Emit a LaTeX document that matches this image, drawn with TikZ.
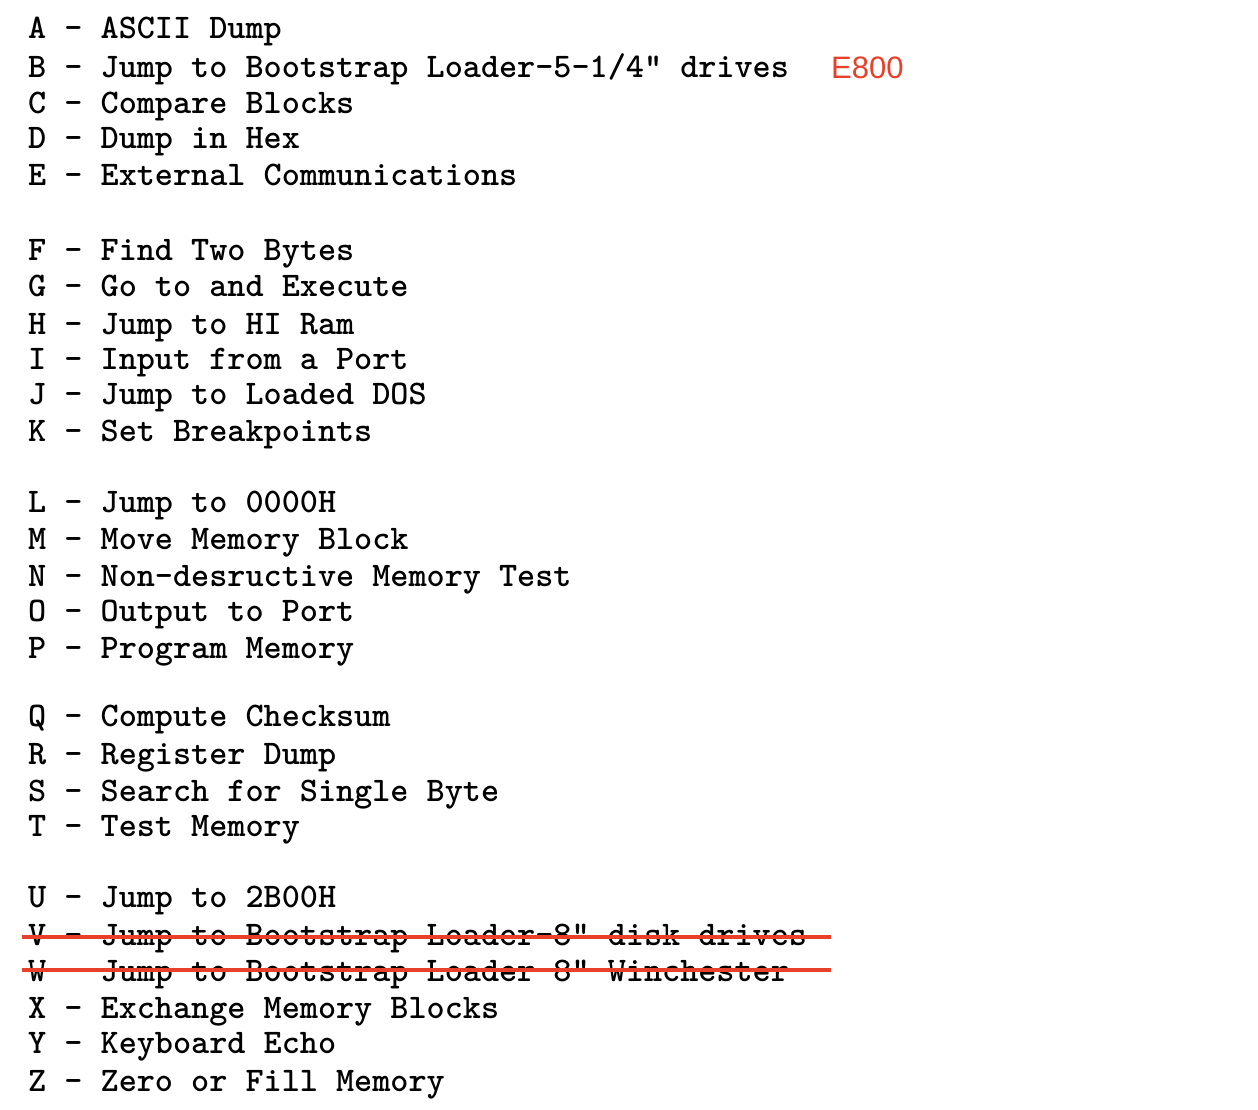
\documentclass[tikz,border=0pt]{standalone}
\usepackage{fontspec}
\usepackage{xcolor}
\usetikzlibrary{positioning}
\newfontfamily\labelfont{Liberation Sans}
\definecolor{markred}{HTML}{E8402A}

\begin{document}
\begin{tikzpicture}[x=1pt, y=-1pt,
    cmd/.style={anchor=base west, inner sep=0pt, font=\ttfamily\bfseries\fontsize{34.5}{36}\selectfont},
    note/.style={anchor=base west, inner sep=0pt, text=markred, font=\labelfont\fontsize{31}{33}\selectfont},
    strike/.style={draw=markred, line width=4.5pt}]
    \useasboundingbox[fill=white] (0,0) rectangle (1258,1110);

    % 命令列表
    \foreach \n/\y/\t in {A/39/{ASCII Dump}, B/78/{Jump to Bootstrap Loader-5-1/4" drives},
        C/114/{Compare Blocks}, D/149/{Dump in Hex}, E/186/{External Communications},
        F/260/{Find Two Bytes}, G/296/{Go to and Execute}, H/334/{Jump to HI Ram},
        I/369/{Input from a Port}, J/404/{Jump to Loaded DOS}, K/441/{Set Breakpoints},
        L/512/{Jump to 0000H}, M/549/{Move Memory Block}, N/586/{Non-desructive Memory Test},
        O/621/{Output to Port}, P/658/{Program Memory},
        Q/726/{Compute Checksum}, R/764/{Register Dump}, S/801/{Search for Single Byte}, T/836/{Test Memory},
        U/907/{Jump to 2B00H}, V/945/{Jump to Bootstrap Loader-8" disk drives},
        W/981/{Jump to Bootstrap Loader-8" Winchester},
        X/1018/{Exchange Memory Blocks}, Y/1053/{Keyboard Echo}, Z/1091/{Zero or Fill Memory}}
        \node[cmd] (cmd\n) at (28,\y) {\n{} - \t};

    % 地址
    \node[note] (addr) at (831,79) {E800};

    % 删除线
    \draw[strike] (22,937) -- (831,937);
    \draw[strike] (22,970) -- (831,970);
\end{tikzpicture}
\end{document}
